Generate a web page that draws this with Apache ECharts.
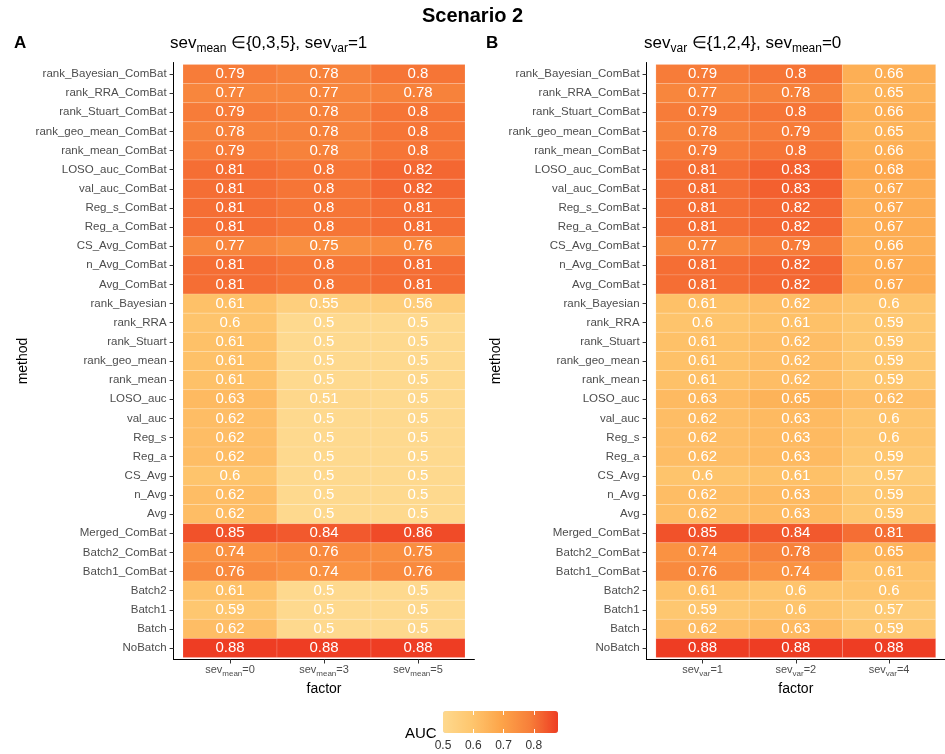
<!DOCTYPE html>
<html>
<head>
<meta charset="utf-8">
<script src="https://cdn.jsdelivr.net/npm/echarts@6/dist/echarts.min.js"></script>
<style>
html, body { margin: 0; padding: 0; background: #fff; }
#chart { width: 945px; height: 754px; }
</style>
</head>
<body>
<div id="chart"></div>
<script>
// Methods, listed from top row to bottom row
const methods = [
  'rank_Bayesian_ComBat', 'rank_RRA_ComBat', 'rank_Stuart_ComBat', 'rank_geo_mean_ComBat',
  'rank_mean_ComBat', 'LOSO_auc_ComBat', 'val_auc_ComBat', 'Reg_s_ComBat', 'Reg_a_ComBat',
  'CS_Avg_ComBat', 'n_Avg_ComBat', 'Avg_ComBat', 'rank_Bayesian', 'rank_RRA', 'rank_Stuart',
  'rank_geo_mean', 'rank_mean', 'LOSO_auc', 'val_auc', 'Reg_s', 'Reg_a', 'CS_Avg', 'n_Avg',
  'Avg', 'Merged_ComBat', 'Batch2_ComBat', 'Batch1_ComBat', 'Batch2', 'Batch1', 'Batch', 'NoBatch'
];

// Factor levels: [subscript, value]
const factorsA = [['mean', '0'], ['mean', '3'], ['mean', '5']];
const factorsB = [['var', '1'], ['var', '2'], ['var', '4']];

// AUC, panel A (sev_var = 1)
const aucMean0 = [0.79, 0.77, 0.79, 0.78, 0.79, 0.81, 0.81, 0.81, 0.81, 0.77, 0.81, 0.81,
  0.61, 0.6, 0.61, 0.61, 0.61, 0.63, 0.62, 0.62, 0.62, 0.6, 0.62, 0.62,
  0.85, 0.74, 0.76, 0.61, 0.59, 0.62, 0.88];
const aucMean3 = [0.78, 0.77, 0.78, 0.78, 0.78, 0.8, 0.8, 0.8, 0.8, 0.75, 0.8, 0.8,
  0.55, 0.5, 0.5, 0.5, 0.5, 0.51, 0.5, 0.5, 0.5, 0.5, 0.5, 0.5,
  0.84, 0.76, 0.74, 0.5, 0.5, 0.5, 0.88];
const aucMean5 = [0.8, 0.78, 0.8, 0.8, 0.8, 0.82, 0.82, 0.81, 0.81, 0.76, 0.81, 0.81,
  0.56, 0.5, 0.5, 0.5, 0.5, 0.5, 0.5, 0.5, 0.5, 0.5, 0.5, 0.5,
  0.86, 0.75, 0.76, 0.5, 0.5, 0.5, 0.88];

// AUC, panel B (sev_mean = 0)
const aucVar1 = [0.79, 0.77, 0.79, 0.78, 0.79, 0.81, 0.81, 0.81, 0.81, 0.77, 0.81, 0.81,
  0.61, 0.6, 0.61, 0.61, 0.61, 0.63, 0.62, 0.62, 0.62, 0.6, 0.62, 0.62,
  0.85, 0.74, 0.76, 0.61, 0.59, 0.62, 0.88];
const aucVar2 = [0.8, 0.78, 0.8, 0.79, 0.8, 0.83, 0.83, 0.82, 0.82, 0.79, 0.82, 0.82,
  0.62, 0.61, 0.62, 0.62, 0.62, 0.65, 0.63, 0.63, 0.63, 0.61, 0.63, 0.63,
  0.84, 0.78, 0.74, 0.6, 0.6, 0.63, 0.88];
const aucVar4 = [0.66, 0.65, 0.66, 0.65, 0.66, 0.68, 0.67, 0.67, 0.67, 0.66, 0.67, 0.67,
  0.6, 0.59, 0.59, 0.59, 0.59, 0.62, 0.6, 0.6, 0.59, 0.57, 0.59, 0.59,
  0.81, 0.65, 0.61, 0.6, 0.57, 0.59, 0.88];

// Colour bar ticks
const legendTicks = [0.5, 0.6, 0.7, 0.8];
const aucMin = 0.5, aucMax = 0.88;

function buildCells(cols) {
  const out = [];
  cols.forEach((col, c) => col.forEach((v, r) => out.push([c + 1, r + 1, v])));
  return out;
}

const FONT = '"Liberation Sans", Arial, Helvetica, sans-serif';
const rowIdx = methods.map((_, i) => i + 1);

function renderTile(params, api) {
  const x = api.value(0), y = api.value(1), v = api.value(2);
  const a = api.coord([x - 0.5, y - 0.5]);
  const b = api.coord([x + 0.5, y + 0.5]);
  const c = api.coord([x, y]);
  return {
    type: 'group',
    children: [
      {
        type: 'rect',
        shape: { x: Math.min(a[0], b[0]), y: Math.min(a[1], b[1]),
                 width: Math.abs(b[0] - a[0]), height: Math.abs(b[1] - a[1]) },
        style: { fill: api.visual('color'), stroke: 'rgba(255,255,255,0.25)', lineWidth: 0.6 }
      },
      {
        type: 'text',
        x: c[0], y: c[1],
        style: { text: String(v), fill: '#ffffff', font: '15px ' + FONT,
                 align: 'center', verticalAlign: 'middle' }
      }
    ]
  };
}

// Tick label styles: main text centred in the line box, subscript dropped to its bottom
const subRich = {
  m: { fontSize: 11, color: '#4d4d4d', fontFamily: FONT, lineHeight: 15, verticalAlign: 'middle' },
  s: { fontSize: 8, color: '#4d4d4d', fontFamily: FONT, lineHeight: 8, verticalAlign: 'bottom' }
};

function xAxisFor(grid, factors) {
  return {
    gridIndex: grid, type: 'value', min: 0.4, max: 3.6,
    name: 'factor', nameLocation: 'middle', nameGap: 22,
    nameTextStyle: { fontSize: 14, color: '#000', fontFamily: FONT },
    axisLine: { show: true, lineStyle: { color: '#000', width: 1 } },
    axisTick: { show: true, length: 4, lineStyle: { color: '#333' }, customValues: [1, 2, 3] },
    axisLabel: {
      customValues: [1, 2, 3], margin: 3,
      formatter: v => { const f = factors[Math.round(v) - 1]; return '{m|sev}{s|' + f[0] + '}{m|=' + f[1] + '}'; },
      rich: subRich
    },
    splitLine: { show: false }
  };
}

function yAxisFor(grid) {
  return {
    gridIndex: grid, type: 'value', min: 0.4, max: methods.length + 0.6, inverse: true,
    name: 'method', nameLocation: 'middle', nameGap: 143, nameRotate: 90,
    nameTextStyle: { fontSize: 14, color: '#000', fontFamily: FONT },
    axisLine: { show: true, lineStyle: { color: '#000', width: 1 } },
    axisTick: { show: true, length: 4, lineStyle: { color: '#333' }, customValues: rowIdx },
    axisLabel: {
      customValues: rowIdx, margin: 7, fontSize: 11.5, color: '#4d4d4d', fontFamily: FONT,
      formatter: v => methods[Math.round(v) - 1]
    },
    splitLine: { show: false }
  };
}

// Panel subtitle styles; brace sets are kept as plain text so they are not read as rich tags
const titleRich = {
  m: { fontSize: 17, fontWeight: 'normal', color: '#000', fontFamily: FONT, lineHeight: 23, verticalAlign: 'middle' },
  s: { fontSize: 12, fontWeight: 'normal', color: '#000', fontFamily: FONT, lineHeight: 12, verticalAlign: 'bottom' }
};
const subtitleStyle = { fontSize: 17, fontWeight: 'normal', color: '#000', fontFamily: FONT,
                        lineHeight: 23, rich: titleRich };

const chart = echarts.init(document.getElementById('chart'), null, { renderer: 'canvas' });
chart.setOption({
  backgroundColor: '#ffffff',
  animation: false,
  title: [
    { text: 'Scenario 2', left: 'center', top: 6, padding: 0,
      textStyle: { fontSize: 20, fontWeight: 'bold', color: '#000', fontFamily: FONT } },
    { text: 'A', left: 14, top: 35, padding: 0,
      textStyle: { fontSize: 17, fontWeight: 'bold', color: '#000', fontFamily: FONT } },
    { text: 'B', left: 486, top: 35, padding: 0,
      textStyle: { fontSize: 17, fontWeight: 'bold', color: '#000', fontFamily: FONT } },
    { text: '{m|sev}{s|mean}{m| ∈}{0,3,5}{m|, sev}{s|var}{m|=1}', left: 170, top: 32, padding: 0,
      textStyle: subtitleStyle },
    { text: '{m|sev}{s|var}{m| ∈}{1,2,4}{m|, sev}{s|mean}{m|=0}', left: 644, top: 32, padding: 0,
      textStyle: subtitleStyle },
    { text: 'AUC', left: 405, top: 726, padding: 0,
      textStyle: { fontSize: 15, fontWeight: 'normal', color: '#000', fontFamily: FONT } }
  ],
  grid: [
    { left: 173.6, top: 62.5, width: 300.8, height: 597, containLabel: false },
    { left: 646.6, top: 62.5, width: 300.8, height: 597, containLabel: false },
    { left: 443, top: 711, width: 115, height: 22, containLabel: false }
  ],
  xAxis: [
    xAxisFor(0, factorsA),
    xAxisFor(1, factorsB),
    { gridIndex: 2, type: 'value', min: aucMin, max: aucMax, position: 'bottom', z: 10,
      axisLine: { show: false }, splitLine: { show: false },
      axisTick: { show: true, inside: true, length: 4, customValues: legendTicks.slice(1),
                  lineStyle: { color: '#ffffff', width: 1 } },
      axisLabel: { customValues: legendTicks, margin: 7, fontSize: 12, color: '#333',
                   fontFamily: FONT, formatter: v => String(v) } },
    { gridIndex: 2, type: 'value', min: aucMin, max: aucMax, position: 'top', z: 10,
      axisLine: { show: false }, splitLine: { show: false }, axisLabel: { show: false },
      axisTick: { show: true, inside: true, length: 4, customValues: legendTicks.slice(1),
                  lineStyle: { color: '#ffffff', width: 1 } } }
  ],
  yAxis: [
    yAxisFor(0),
    yAxisFor(1),
    { gridIndex: 2, type: 'value', show: false, min: 0, max: 1 }
  ],
  visualMap: {
    type: 'continuous', min: aucMin, max: aucMax, dimension: 2, seriesIndex: [0, 1],
    orient: 'horizontal', left: 443, top: 711, itemWidth: 22, itemHeight: 115,
    padding: 0, calculable: false, hoverLink: false, realtime: false,
    inRange: { color: ['#fed98e', '#fec66e', '#fda54a', '#f7803a', '#ee3d23'] }
  },
  series: [
    { type: 'custom', xAxisIndex: 0, yAxisIndex: 0, data: buildCells([aucMean0, aucMean3, aucMean5]),
      renderItem: renderTile, encode: { x: 0, y: 1 } },
    { type: 'custom', xAxisIndex: 1, yAxisIndex: 1, data: buildCells([aucVar1, aucVar2, aucVar4]),
      renderItem: renderTile, encode: { x: 0, y: 1 } }
  ]
});
</script>
</body>
</html>
